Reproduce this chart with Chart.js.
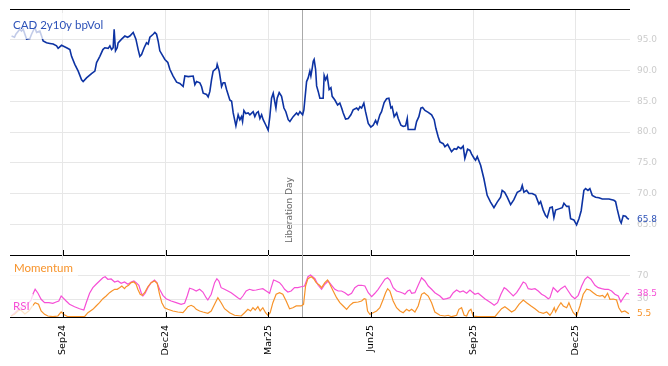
<!DOCTYPE html>
<html><head><meta charset="utf-8">
<script src="https://cdn.jsdelivr.net/npm/chart.js@4.4.1/dist/chart.umd.min.js"></script>
<style>
html,body{margin:0;padding:0;background:#fff;}
#wrap{position:relative;width:668px;height:366px;overflow:hidden;background:#fff;}
canvas{position:absolute;left:0;}
#c1{top:0;} #c2{top:250px;}
</style></head><body>
<div id="wrap"><canvas id="c1" width="668" height="256"></canvas><canvas id="c2" width="668" height="116"></canvas></div>
<script>
// x values: days since 2024-09-01
const xTickDays = [1, 92, 183, 274, 365, 456];
const xTickLabels = ['Sep24','Dec24','Mar25','Jun25','Sep25','Dec25'];
const liberationDay = 213; // 2025-04-02
const volTicks = [65,70,75,80,85,90,95];
const oscTicks = [30,70];

const volDays = [-44.6,-42.0,-40.8,-37.3,-35.8,-34.3,-31.3,-28.4,-26.9,-24.0,-22.4,-19.5,-18.0,-16.6,-13.6,-10.6,-7.7,-4.7,-3.3,-0.3,4.2,7.1,8.6,11.5,14.5,17.5,18.9,21.9,26.3,29.3,30.8,33.7,36.4,38.1,41.1,42.6,44.1,45.5,46.4,47.6,49.1,49.9,53.0,55.9,58.3,60.3,63.3,65.7,67.7,69.2,70.7,73.0,75.1,76.6,78.1,81.0,82.5,84.0,85.4,86.9,91.4,94.0,95.8,98.7,101.8,104.7,107.6,109.1,112.1,116.5,118.0,119.5,122.4,123.9,125.4,128.4,129.8,131.3,132.8,134.2,137.2,137.8,139.6,141.7,143.1,144.6,146.1,149.0,150.6,152.0,154.4,156.4,157.9,159.4,160.3,161.5,163.2,165.3,166.8,169.7,171.2,172.7,174.2,175.7,177.2,178.6,181.0,183.0,184.5,186.0,187.5,189.9,191.0,192.8,194.9,197.0,198.7,200.8,202.3,205.2,208.2,209.6,211.2,213.6,214.7,217.1,218.5,220.0,220.9,222.1,223.0,223.8,225.1,226.0,227.4,228.9,231.8,232.7,234.0,235.4,237.1,238.7,239.8,242.2,244.6,246.6,248.2,249.6,251.7,254.0,256.4,258.4,261.5,262.9,264.4,265.9,267.9,269.4,271.8,274.1,276.2,278.3,279.7,282.1,283.6,285.9,288.1,290.1,291.9,293.0,294.8,297.0,298.4,300.8,302.8,304.9,306.4,307.2,310.3,313.2,314.7,316.7,318.5,320.0,322.1,325.0,328.0,330.3,331.8,333.9,335.4,338.3,339.8,342.2,344.2,345.7,348.1,350.2,351.6,354.0,356.0,357.5,359.9,362.0,363.5,365.8,367.0,368.5,371.5,374.4,377.3,380.3,383.3,386.2,389.2,390.6,392.8,395.1,398.1,401.0,404.0,407.0,408.4,409.9,412.3,414.3,417.3,420.3,423.2,424.7,427.0,429.1,430.6,433.0,435.0,436.5,438.0,440.9,443.9,445.4,447.8,449.8,451.3,454.2,456.6,458.7,460.7,463.1,464.6,466.7,468.4,470.5,473.5,476.4,479.4,482.4,485.3,489.7,491.2,492.6,495.1,496.2,498.0,500.1,501.5,503.0];
const volValues = [95.6,95.4,95.9,96.7,96.4,96.7,95.1,95.2,95.9,97.0,96.2,96.4,95.6,94.8,94.5,94.4,94.3,94.0,93.6,94.1,93.7,93.4,92.3,91.0,89.9,88.5,88.2,88.8,89.5,89.9,91.3,92.3,93.4,93.7,93.6,94.0,93.4,93.7,96.7,93.2,93.7,94.5,95.1,95.6,95.4,95.6,96.2,95.1,93.4,92.3,92.6,93.7,94.5,94.3,95.4,95.9,96.2,95.9,94.8,93.2,91.8,91.3,90.2,89.1,88.1,87.9,87.4,89.1,89.0,89.1,87.7,88.2,88.0,87.4,86.3,86.1,85.7,86.6,88.5,89.9,90.4,91.0,89.9,87.4,88.0,88.0,86.9,85.2,85.0,83.1,81.0,82.8,82.0,82.5,81.7,83.5,83.0,83.1,82.8,83.3,82.5,83.1,83.3,82.2,82.8,82.0,81.1,80.3,82.5,85.5,86.3,83.9,85.5,86.4,85.8,83.9,83.3,82.0,81.7,82.5,83.1,82.8,83.3,82.8,83.6,88.2,88.8,89.9,89.1,90.4,91.5,91.8,90.2,87.5,86.6,85.5,85.5,89.2,88.5,89.1,86.9,87.2,85.8,85.2,84.4,84.7,83.9,83.1,82.1,82.2,82.8,83.6,83.9,83.6,84.1,83.9,84.7,83.3,81.4,80.8,81.1,81.9,81.3,82.8,83.3,84.8,85.4,85.5,83.9,84.1,82.5,83.1,82.2,81.1,80.9,81.0,82.2,80.4,80.4,80.4,81.7,82.5,83.9,84.0,83.5,83.2,82.8,82.0,80.6,79.2,78.4,78.1,77.6,78.0,77.3,76.8,77.3,77.2,77.6,77.3,77.7,75.7,77.2,77.0,76.4,75.7,75.4,76.0,74.6,72.4,69.7,68.6,67.7,68.6,69.4,70.5,70.2,69.4,68.2,69.0,70.2,70.5,71.3,70.2,70.5,70.0,70.0,69.7,68.3,68.7,67.3,66.4,66.1,67.7,67.8,66.1,67.3,67.5,67.7,68.4,67.9,67.9,65.9,65.7,64.9,65.9,67.2,70.5,70.8,70.5,70.8,69.7,69.4,69.3,69.1,69.1,69.1,68.9,68.7,67.5,65.6,65.2,66.4,66.3,66.0,65.8];

const rsiDays = [-45.0,-41.7,-37.3,-32.8,-30.2,-27.2,-25.7,-23.7,-21.3,-18.4,-15.3,-11.5,-8.0,-5.1,-2.7,-0.6,0.9,3.8,6.8,11.3,15.7,19.5,21.6,24.6,27.5,30.4,33.4,36.4,38.4,40.8,43.7,46.8,49.7,52.6,55.6,58.6,61.5,63.9,65.9,68.3,70.4,71.9,73.9,76.3,79.2,82.2,84.3,86.7,89.6,92.5,97.0,101.4,105.8,108.9,111.2,113.3,116.2,119.2,122.2,125.1,128.0,129.5,132.5,135.5,137.5,139.3,141.3,144.3,147.3,150.2,153.2,156.1,158.2,160.6,163.5,166.5,169.5,172.4,175.4,178.3,181.3,184.3,185.7,187.8,190.1,193.1,195.2,197.6,200.5,203.4,206.4,209.4,212.3,215.3,218.3,220.6,222.7,224.5,227.4,230.4,233.3,236.3,239.3,242.2,245.1,248.1,251.1,254.0,257.0,259.9,262.9,265.9,268.8,271.8,274.8,277.7,280.6,283.6,286.6,289.0,291.0,293.9,296.9,299.9,302.8,304.3,306.7,308.7,310.3,313.2,316.1,319.1,322.1,325.0,328.0,330.9,335.4,338.3,341.3,344.2,347.2,350.2,353.1,356.0,359.1,362.0,364.0,366.4,369.3,372.3,375.2,378.2,381.2,383.5,386.5,389.5,392.4,394.5,397.5,400.4,403.4,406.3,409.3,411.4,413.7,416.7,419.7,422.6,425.6,428.5,431.5,433.0,435.9,437.4,439.8,442.7,446.3,449.2,452.2,455.1,458.1,461.1,464.0,466.4,469.3,472.9,475.8,478.8,481.7,484.7,487.7,490.6,493.6,495.9,498.0,501.0,503.0];
const rsiValues = [1.7,6.7,15.1,18.5,21.8,28.5,38.1,46.5,40.3,29.7,24.0,24.0,23.0,25.2,26.8,35.2,32.4,26.8,21.3,17.3,13.9,11.7,24.0,39.8,49.2,54.9,60.4,65.9,67.6,63.3,63.8,58.7,60.4,56.5,58.7,54.9,58.7,60.4,57.6,53.2,40.8,35.2,39.8,49.2,57.6,62.1,57.6,46.5,36.4,30.7,26.8,24.0,21.3,23.0,35.2,48.2,46.5,43.6,46.5,41.9,32.4,28.5,38.1,57.6,64.3,60.4,49.2,46.5,43.6,40.8,36.4,32.4,29.7,35.2,43.6,46.5,44.8,45.3,46.5,47.5,43.6,39.8,49.2,62.1,60.4,57.6,53.2,46.5,41.9,43.6,49.2,49.2,50.8,52.0,67.6,70.5,67.1,64.3,53.2,46.5,54.9,60.4,53.2,46.5,43.6,43.6,40.8,36.4,39.8,49.2,53.2,53.2,52.0,40.8,34.1,39.8,46.5,54.9,63.3,65.9,62.1,49.2,43.6,41.9,39.8,38.1,43.6,45.3,39.8,40.8,53.2,65.9,60.4,52.0,46.5,40.8,35.2,29.7,30.7,32.4,40.8,45.3,41.9,43.6,39.8,45.3,41.9,38.1,39.8,35.2,30.7,26.8,23.0,19.6,24.0,38.1,49.2,46.5,40.8,35.2,40.8,49.2,58.7,56.5,47.5,46.5,47.5,43.6,38.1,35.2,30.7,32.4,49.2,46.5,41.9,47.5,52.0,43.6,35.2,30.7,36.4,52.0,63.3,67.6,63.3,53.2,49.2,47.5,46.5,46.5,43.6,38.1,35.2,25.2,31.9,39.8,38.5];

const momDays = [-45.2,-41.7,-39.0,-36.4,-32.8,-29.3,-25.7,-23.7,-20.7,-18.4,-15.3,-12.4,-8.0,-3.5,-0.6,1.8,5.3,12.4,20.1,23.1,27.5,30.4,33.4,36.4,39.3,42.3,44.4,46.8,49.1,51.2,53.2,55.6,57.0,59.2,61.5,63.9,65.9,67.4,69.5,71.2,73.4,76.3,79.2,82.2,84.6,86.7,88.7,91.1,94.0,98.5,102.9,107.4,109.4,111.8,114.7,117.1,119.2,122.2,125.1,129.5,132.5,135.5,138.4,141.3,144.3,148.8,153.2,159.1,162.1,165.0,167.4,169.5,171.5,173.9,175.9,178.3,180.7,182.8,184.8,187.2,190.1,193.1,196.0,199.0,202.0,204.9,207.9,212.3,214.4,216.2,218.3,221.2,223.4,225.6,228.6,230.4,233.3,235.7,237.8,240.7,243.7,246.6,249.6,252.6,255.5,258.4,262.9,265.9,268.2,269.7,271.2,273.2,276.2,279.2,282.1,285.1,287.2,289.0,291.0,293.9,296.9,299.9,302.8,305.8,308.1,310.3,313.2,316.1,319.1,321.4,325.0,328.0,330.9,335.4,339.8,342.7,345.7,350.2,352.2,354.6,356.9,359.1,361.1,362.9,364.9,369.1,375.3,384.2,387.1,390.1,393.0,395.4,399.0,401.9,405.5,409.3,412.3,416.2,419.7,423.2,427.1,430.1,433.0,435.0,436.8,438.0,440.4,442.7,444.8,447.8,449.8,451.6,453.7,456.6,459.6,462.5,465.5,468.4,471.4,474.4,477.3,479.7,481.7,484.1,486.2,489.1,492.1,494.1,496.5,499.4,503.0];
const momValues = [1.7,5.0,10.1,11.7,5.0,10.1,19.6,24.0,21.3,10.1,4.5,1.7,0.5,1.7,8.4,4.2,0.5,0.5,0.5,7.2,12.9,18.5,24.0,30.7,35.2,40.8,43.6,46.5,46.5,49.2,52.0,47.5,50.8,53.2,57.6,58.7,54.9,46.5,38.1,36.4,40.8,50.8,57.6,60.4,56.5,38.1,24.0,15.6,12.9,10.1,8.4,7.2,11.7,17.3,19.6,17.3,12.9,10.1,8.4,6.2,10.1,21.3,32.4,24.0,13.9,7.2,2.9,1.7,7.2,12.9,10.1,15.6,11.7,17.3,10.1,15.6,7.2,2.9,7.2,24.0,38.1,40.8,38.1,26.8,13.9,15.6,18.5,18.5,21.3,52.0,64.3,67.6,64.3,57.6,53.2,49.2,57.6,62.1,54.9,43.6,32.4,24.0,18.5,12.9,19.6,24.0,25.2,26.8,30.7,29.7,10.1,4.5,7.2,10.1,15.6,29.7,40.8,47.5,43.6,26.8,15.6,10.1,7.2,12.9,10.1,12.9,8.4,18.5,38.1,40.8,35.2,24.0,8.4,2.9,1.7,2.9,0.5,2.9,12.9,15.6,2.9,1.7,10.1,12.9,1.7,0.5,0.5,0.5,7.2,13.9,17.3,13.9,8.4,11.7,21.3,28.5,24.0,18.5,13.9,8.4,6.2,8.4,2.9,8.4,15.6,8.4,17.3,24.0,18.5,15.6,24.0,15.6,7.2,1.7,18.5,38.1,46.5,45.3,40.8,36.4,35.2,36.4,32.4,39.8,29.7,30.2,28.5,15.6,8.4,10.1,5.5];

const BLUE = '#0d33a3', BLUE_TXT = '#2d52b8', PINK = '#f64fd6', ORANGE = '#f7932a';
const TICK_FONT = {family:'DejaVu Sans', size:9};
const pts = (xs, ys) => xs.map((x, i) => ({x, y: ys[i]}));
const zeroPad = s => { s.paddingTop = 0; s.paddingBottom = 0; s.paddingLeft = 0; s.paddingRight = 0; };

function xAxis(showLabels){
  return {
    type:'linear', min:-46, max:504,
    afterBuildTicks: s => { s.ticks = xTickDays.map(v => ({value:v})); },
    ticks:{ display:showLabels, autoSkip:false, minRotation:90, maxRotation:90, padding:8,
      color:'#000', font:{family:'DejaVu Sans', size:9.5}, callback: v => { const i = xTickDays.indexOf(v); return i >= 0 ? xTickLabels[i] : ''; } },
    grid:{ color:'#e7e7e7', drawTicks:false },
    border:{ display:false },
    afterFit: s => { s.height = showLabels ? 49 : 0; zeroPad(s); }
  };
}
function yAxis(min, max, ticks, fmt){
  return {
    position:'right', min, max,
    afterBuildTicks: s => { s.ticks = ticks.map(v => ({value:v})); },
    ticks:{ autoSkip:false, padding:7, color:'#cccccc', font:TICK_FONT, callback: fmt },
    grid:{ color:'#e7e7e7', drawTicks:false },
    border:{ display:false },
    afterFit: s => { s.width = 38; zeroPad(s); }
  };
}
function drawFrame(chart, drawTop){
  const {ctx, chartArea:a, scales} = chart;
  ctx.save();
  ctx.fillStyle = '#000';
  if (drawTop) ctx.fillRect(a.left, a.top, a.right - a.left, 1);
  ctx.fillRect(a.left, a.bottom, a.right - a.left, 1);
  xTickDays.forEach(v => {
    const px = Math.round(scales.x.getPixelForValue(v));
    ctx.fillRect(px, a.bottom - 5, 1, 5);
  });
  ctx.restore();
}
function drawLibLine(chart){
  const {ctx, chartArea:a, scales} = chart;
  const px = Math.round(scales.x.getPixelForValue(liberationDay)) + 0.5;
  ctx.save();
  ctx.strokeStyle = '#aaaaaa'; ctx.lineWidth = 1;
  ctx.beginPath(); ctx.moveTo(px, a.top); ctx.lineTo(px, a.bottom); ctx.stroke();
  ctx.restore();
}
function boxLabel(ctx, text, color, bx, by, bw, bh, tx, ty){
  ctx.save();
  ctx.fillStyle = 'rgba(255,255,255,0.75)';
  ctx.fillRect(bx, by, bw, bh);
  ctx.font = '11.5px Lato';
  ctx.fillStyle = color; ctx.textAlign = 'left'; ctx.textBaseline = 'alphabetic';
  ctx.fillText(text, tx, ty);
  ctx.restore();
}
function lastLabel(chart, scale, value, color){
  const {ctx, chartArea:a} = chart;
  ctx.save();
  ctx.font = '9px "DejaVu Sans"';
  ctx.fillStyle = color; ctx.textAlign = 'left'; ctx.textBaseline = 'middle';
  ctx.fillText(value.toFixed(1), a.right + 7, scale.getPixelForValue(value));
  ctx.restore();
}

const topPlugin = {
  id:'topDeco',
  beforeDatasetsDraw(chart){ drawLibLine(chart); },
  afterDatasetsDraw(chart){
    const {ctx, chartArea:a, scales} = chart;
    drawFrame(chart, true);
    boxLabel(ctx, 'CAD 2y10y bpVol', BLUE_TXT, a.left, 13, 93, 26, 13, 29);
    const px = scales.x.getPixelForValue(liberationDay);
    ctx.save();
    ctx.translate(px - 12, a.bottom - 12);
    ctx.rotate(-Math.PI/2);
    ctx.font = '9px "DejaVu Sans"'; ctx.fillStyle = '#666'; ctx.textAlign = 'left'; ctx.textBaseline = 'middle';
    ctx.fillText('Liberation Day', 0, 0);
    ctx.restore();
  },
  afterDraw(chart){ lastLabel(chart, chart.scales.y, volValues[volValues.length-1], BLUE_TXT); }
};
const botPlugin = {
  id:'botDeco',
  beforeDatasetsDraw(chart){ drawLibLine(chart); },
  afterDatasetsDraw(chart){
    const {ctx, chartArea:a} = chart;
    drawFrame(chart, false);
    boxLabel(ctx, 'Momentum', ORANGE, a.left, a.top + 4, 68, 17, 14, a.top + 17);
    boxLabel(ctx, 'RSI', PINK, a.left, a.top + 39, 23, a.bottom - a.top - 39, 13, a.top + 54.5);
  },
  afterDraw(chart){
    lastLabel(chart, chart.scales.y, rsiValues[rsiValues.length-1], PINK);
    lastLabel(chart, chart.scales.y, momValues[momValues.length-1], ORANGE);
  }
};
const common = { responsive:false, animation:false, devicePixelRatio:1, events:[],
  plugins:{ legend:{display:false}, tooltip:{enabled:false} } };

new Chart(document.getElementById('c1'), {
  type:'line',
  data:{ datasets:[{ data: pts(volDays, volValues), borderColor:BLUE, borderWidth:1.6, pointRadius:0, tension:0 }] },
  options:Object.assign({}, common, {
    layout:{ padding:{left:10, top:9, right:0, bottom:1} },
    scales:{ x:xAxis(false), y:yAxis(60, 100, volTicks, v => v.toFixed(1)) }
  }),
  plugins:[topPlugin]
});
new Chart(document.getElementById('c2'), {
  type:'line',
  data:{ datasets:[
    { data: pts(momDays, momValues), borderColor:ORANGE, borderWidth:1.2, pointRadius:0, tension:0 },
    { data: pts(rsiDays, rsiValues), borderColor:PINK, borderWidth:1.2, pointRadius:0, tension:0 }
  ] },
  options:Object.assign({}, common, {
    layout:{ padding:{left:10, top:5, right:0, bottom:0} },
    scales:{ x:xAxis(true), y:yAxis(0, 104, oscTicks, v => String(v)) }
  }),
  plugins:[botPlugin]
});
</script>
</body></html>
